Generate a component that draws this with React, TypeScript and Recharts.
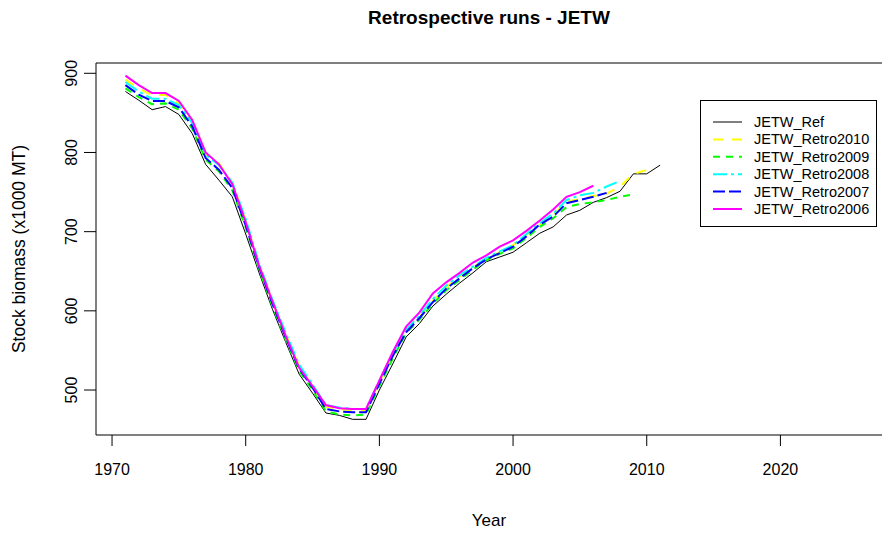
import { LineChart, Line, XAxis, YAxis, ReferenceLine } from 'recharts';

const years = [
  1971, 1972, 1973, 1974, 1975, 1976, 1977, 1978, 1979, 1980,
  1981, 1982, 1983, 1984, 1985, 1986, 1987, 1988, 1989, 1990,
  1991, 1992, 1993, 1994, 1995, 1996, 1997, 1998, 1999, 2000,
  2001, 2002, 2003, 2004, 2005, 2006, 2007, 2008, 2009, 2010, 2011,
];

const jetwRef = [
  877, 866, 854, 858, 848, 824, 785, 765, 744, 697,
  648, 602, 560, 520, 496, 471, 468, 463, 463, 500,
  533, 567, 584, 606, 621, 635, 648, 662, 668, 674,
  686, 698, 706, 721, 727, 737, 743, 751, 773, 773, 784,
];

const retro2010 = [
  892, 881, 872, 873, 862, 839, 798, 786, 762, 714,
  658, 612, 570, 530, 505, 479, 476, 474, 474, 510,
  545, 575, 592, 613, 630, 643, 655, 666, 674, 683,
  696, 709, 721, 738, 741, 745, 748, 757, 773, 778,
];

const retro2009 = [
  881, 870, 861, 862, 854, 830, 791, 776, 752, 705,
  652, 606, 563, 524, 500, 473, 469, 468, 469, 505,
  540, 572, 589, 609, 626, 639, 652, 664, 672, 679,
  692, 706, 717, 731, 735, 737, 740, 744, 747,
];

const retro2008 = [
  889, 877, 868, 868, 860, 837, 797, 784, 762, 716,
  660, 614, 572, 532, 507, 481, 478, 476, 476, 512,
  546, 576, 594, 615, 632, 645, 656, 667, 675, 683,
  697, 711, 723, 740, 746, 749, 757, 764,
];

const retro2007 = [
  885, 873, 865, 865, 857, 833, 793, 778, 755, 708,
  655, 609, 566, 527, 503, 476, 473, 472, 472, 508,
  543, 573, 591, 611, 628, 641, 654, 665, 673, 681,
  694, 709, 719, 736, 740, 744, 749,
];

const retro2006 = [
  897, 885, 875, 875, 865, 841, 800, 785, 760, 712,
  657, 612, 568, 528, 505, 481, 477, 476, 476, 512,
  548, 580, 598, 622, 636, 648, 661, 670, 681, 689,
  701, 714, 728, 744, 750, 758,
];

const xTicks = [1970, 1980, 1990, 2000, 2010, 2020];
const yTicks = [500, 600, 700, 800, 900];

const FONT = '"Liberation Sans", Arial, Helvetica, sans-serif';

const series = [
  { name: 'JETW_Ref', values: jetwRef, color: '#000000', width: 1, dash: undefined },
  { name: 'JETW_Retro2010', values: retro2010, color: '#FFFF00', width: 2, dash: '10 9' },
  { name: 'JETW_Retro2009', values: retro2009, color: '#00FF00', width: 2, dash: '7 6' },
  { name: 'JETW_Retro2008', values: retro2008, color: '#00FFFF', width: 2, dash: '14 4 3 4' },
  { name: 'JETW_Retro2007', values: retro2007, color: '#0000FF', width: 2, dash: '12 4' },
  { name: 'JETW_Retro2006', values: retro2006, color: '#FF00FF', width: 2, dash: undefined },
];

const data = years.map((year, i) => {
  const row: Record<string, number | undefined> = { year };
  series.forEach((s) => {
    row[s.name] = s.values[i];
  });
  return row;
});

const YTick = ({ x, y, payload }: { x?: number; y?: number; payload?: { value: number } }) => (
  <text
    x={x}
    y={y}
    transform={`rotate(-90, ${x}, ${y})`}
    textAnchor="middle"
    dy="0.35em"
    fontSize={16}
    fontFamily={FONT}
    fill="#000"
  >
    {payload?.value}
  </text>
);

const YTitle = ({ viewBox }: { viewBox?: { x: number; y: number; width: number; height: number } }) => {
  const cy = viewBox ? viewBox.y + viewBox.height / 2 : 249;
  return (
    <text
      x={19}
      y={cy}
      transform={`rotate(-90, 19, ${cy})`}
      textAnchor="middle"
      dy="0.35em"
      fontSize={17.5}
      fontFamily={FONT}
      fill="#000"
    >
      Stock biomass (x1000 MT)
    </text>
  );
};

const LegendBox = () => (
  <svg width={177} height={127} style={{ position: 'absolute', left: 700, top: 100 }}>
    <rect x={0.5} y={0.5} width={176} height={126} fill="#fff" stroke="#000" />
    {series.map((s, i) => {
      const y = 22 + i * 17.4;
      return (
        <g key={s.name}>
          <line x1={13} x2={42} y1={y} y2={y} stroke={s.color} strokeWidth={s.width} strokeDasharray={s.dash} />
          <text x={54} y={y} dy="0.35em" fontSize={14.5} fontFamily={FONT} fill="#000">
            {s.name}
          </text>
        </g>
      );
    })}
  </svg>
);

export default function App() {
  return (
    <div style={{ position: 'relative', width: 882, height: 533, background: '#fff', fontFamily: FONT }}>
      <style>{'body{margin:0}'}</style>
      <div
        style={{
          position: 'absolute',
          left: 96,
          width: 786,
          top: 7,
          textAlign: 'center',
          fontSize: 19,
          lineHeight: '22px',
          fontWeight: 'bold',
          color: '#000',
        }}
      >
        Retrospective runs - JETW
      </div>
      <LineChart width={882} height={533} data={data} margin={{ top: 63, right: 0, bottom: 0, left: 0 }}>
        <XAxis
          dataKey="year"
          type="number"
          domain={[1968.8, 2027.6]}
          ticks={xTicks}
          allowDataOverflow
          height={98}
          tickSize={11}
          tickMargin={18}
          stroke="#000"
          tick={{ fill: '#000', fontSize: 16, fontFamily: FONT }}
          label={{ value: 'Year', position: 'insideBottom', offset: 7, fontSize: 17, fill: '#000', fontFamily: FONT }}
        />
        <YAxis
          type="number"
          domain={[443.2, 913]}
          ticks={yTicks}
          allowDataOverflow
          width={96}
          tickSize={12}
          tickMargin={13}
          stroke="#000"
          tick={<YTick />}
          label={<YTitle />}
        />
        <ReferenceLine y={913} stroke="#000" />
        {series.map((s) => (
          <Line
            key={s.name}
            dataKey={s.name}
            stroke={s.color}
            strokeWidth={s.width}
            strokeDasharray={s.dash}
            dot={false}
            activeDot={false}
            isAnimationActive={false}
          />
        ))}
      </LineChart>
      <LegendBox />
    </div>
  );
}
